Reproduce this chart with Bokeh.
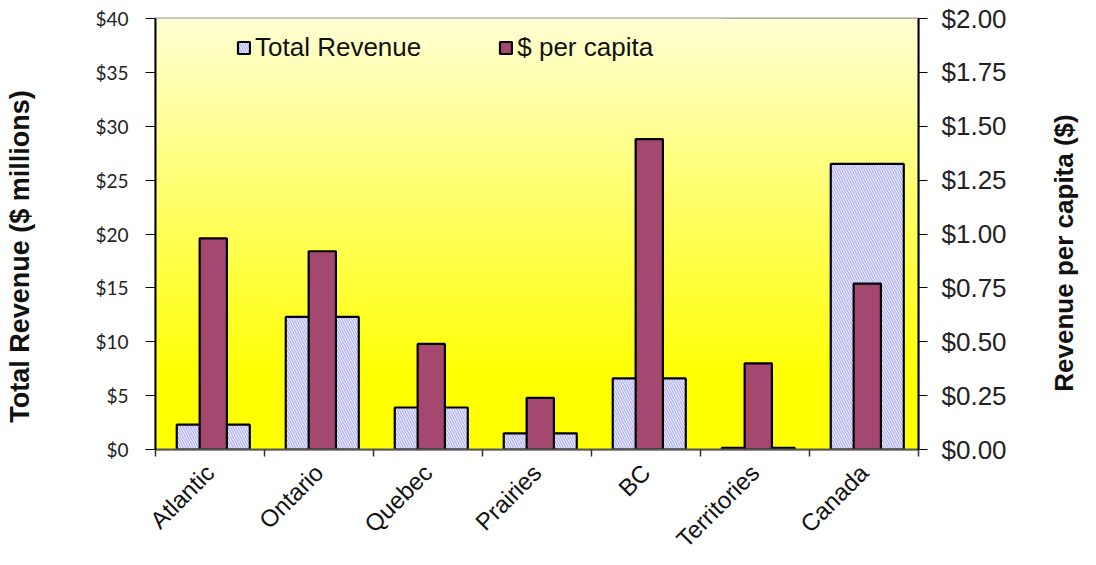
import numpy as np
from bokeh.plotting import figure
from bokeh.models import (Range1d, LinearAxis, FixedTicker, NumeralTickFormatter,
                          Legend, LegendItem, ColumnDataSource, BoxAnnotation)
from bokeh.embed import file_html
from bokeh.resources import INLINE

categories = ["Atlantic", "Ontario", "Quebec", "Prairies", "BC", "Territories", "Canada"]
total_revenue = [2.3, 12.3, 3.9, 1.5, 6.6, 0.15, 26.5]      # $ millions
per_capita = [0.98, 0.92, 0.49, 0.24, 1.44, 0.40, 0.77]      # $ per capita
left_ticks = [0, 5, 10, 15, 20, 25, 30, 35, 40]
right_ticks = [0, 0.25, 0.5, 0.75, 1.0, 1.25, 1.5, 1.75, 2.0]

xpos = [i + 0.03 for i in range(len(categories))]
src = ColumnDataSource(dict(x=xpos, tot=total_revenue, pc=per_capita))

NB = "\u00a0"
W, H = 1096, 565
p = figure(width=W, height=H, output_backend="svg", toolbar_location=None,
           x_range=Range1d(-0.5, 6.5), y_range=Range1d(0, 40),
           min_border_left=155, min_border_right=178, min_border_top=18, min_border_bottom=115)
p.extra_y_ranges = {"pc": Range1d(0, 2)}
p.background_fill_color = None
p.border_fill_color = "white"
p.outline_line_color = "#999999"
p.outline_line_width = 2

# gradient background
n = 200
t = np.linspace(0, 1, n)  # 0 bottom -> 1 top
blue = np.clip((t - 0.15) / 0.85, 0, 1) * 212
img = np.zeros((n, 1), dtype=np.uint32)
view = img.view(dtype=np.uint8).reshape((n, 1, 4))
view[:, 0, 0] = 255
view[:, 0, 1] = 255
view[:, 0, 2] = blue.astype(np.uint8)
view[:, 0, 3] = 255
p.image_rgba(image=[img], x=-0.5, y=0, dw=7, dh=40)

# pale legend panel
p.add_layout(BoxAnnotation(left=-0.5, right=4.7, bottom=35.1, top=40,
                           fill_color="#FFFFD6", fill_alpha=1, line_color=None, level="underlay"))

# grid
p.xgrid.grid_line_color = None
p.ygrid.ticker = FixedTicker(ticks=left_ticks)
p.ygrid.grid_line_color = "black"
p.ygrid.grid_line_width = 1.2
p.ygrid.level = "image"

r1 = p.vbar(x="x", top="tot", width=0.67, source=src, fill_color="#E8E8FF",
            hatch_pattern="\\", hatch_color="#A4A4EA", hatch_scale=5, hatch_weight=1,
            line_color="black", line_width=2.2)
r2 = p.vbar(x="x", top="pc", width=0.25, source=src, y_range_name="pc",
            fill_color="#A5486F", line_color="black", line_width=2.2)

# x axis: ticks at category boundaries, labels at centres
xa = p.xaxis[0]
centers = list(range(len(categories)))
bounds = [i - 0.5 for i in range(len(categories) + 1)]
xa.ticker = FixedTicker(ticks=centers, minor_ticks=bounds)
xa.major_label_overrides = {i: c for i, c in enumerate(categories)}
xa.major_tick_out = 0
xa.major_tick_in = 0
xa.minor_tick_out = 7
xa.minor_tick_in = 0
xa.minor_tick_line_color = "#333333"
xa.minor_tick_line_width = 1.5
xa.axis_line_color = "#555555"
xa.axis_line_width = 2
xa.major_label_orientation = np.pi / 4
xa.major_label_text_font = "Liberation Sans"
xa.major_label_text_font_size = "24px"
xa.major_label_text_color = "#111111"
xa.major_label_standoff = 12

# left axis
ya = p.yaxis[0]
ya.ticker = FixedTicker(ticks=left_ticks)
ya.formatter = NumeralTickFormatter(format="$0")
ya.major_tick_out = 10
ya.major_tick_in = 0
ya.minor_tick_line_color = None
ya.axis_line_color = "black"
ya.axis_line_width = 2
ya.major_label_text_font = "Lato"
ya.major_label_text_font_size = "19px"
ya.major_label_text_color = "#222222"
ya.major_label_standoff = 17
ya.axis_label = "Total Revenue ($ millions)" + NB * 6
ya.axis_label_text_font = "Liberation Sans"
ya.axis_label_text_font_style = "bold"
ya.axis_label_text_font_size = "27px"
ya.axis_label_text_color = "#111111"
ya.axis_label_standoff = 57

# right axis
ra = LinearAxis(y_range_name="pc", ticker=FixedTicker(ticks=right_ticks),
                formatter=NumeralTickFormatter(format="$0.00"))
ra.major_tick_out = 9
ra.major_tick_in = 0
ra.minor_tick_line_color = None
ra.axis_line_color = "black"
ra.axis_line_width = 2
ra.major_label_text_font = "Liberation Sans"
ra.major_label_text_font_size = "26px"
ra.major_label_text_color = "#222222"
ra.major_label_standoff = 14
ra.axis_label_text_font = "Liberation Sans"
ra.axis_label_text_font_style = "bold"
ra.axis_label_text_font_size = "26px"
ra.axis_label_text_color = "#111111"
ra.axis_label_standoff = 54
ra.axis_label_orientation = np.pi / 2
ra.axis_label_align = "start"
ra.axis_label = NB * 8 + "Revenue per capita ($)"
p.add_layout(ra, "right")

legend = Legend(items=[LegendItem(label="Total Revenue", renderers=[r1]),
                       LegendItem(label="$ per capita", renderers=[r2])],
                orientation="horizontal", location=(81, 386),
                background_fill_alpha=0, border_line_color=None,
                glyph_width=15, glyph_height=15, label_standoff=4, spacing=77,
                padding=5, margin=0,
                label_text_font="Liberation Sans", label_text_font_size="26px",
                label_text_color="#111111")
p.add_layout(legend)

open("out.html", "w").write(file_html(p, INLINE))
